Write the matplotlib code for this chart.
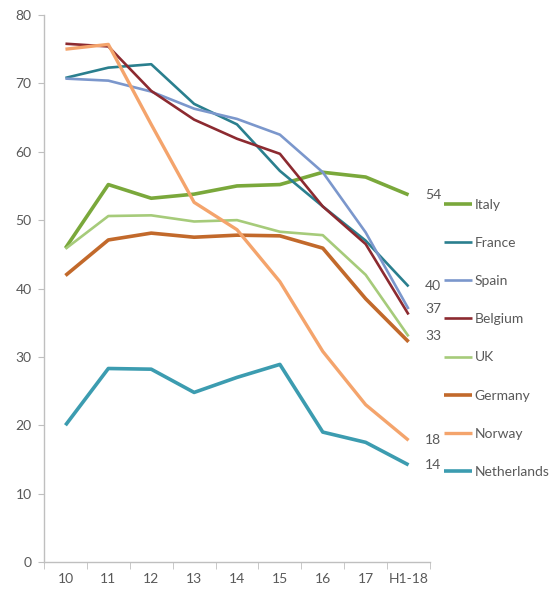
import matplotlib
matplotlib.use("Agg")
import matplotlib.pyplot as plt
from matplotlib.ticker import FixedLocator

categories = ["10", "11", "12", "13", "14", "15", "16", "17", "H1-18"]
italy = [45.9, 55.2, 53.2, 53.8, 55.0, 55.2, 57.0, 56.3, 53.7]
france = [70.8, 72.3, 72.8, 67.0, 64.0, 57.2, 52.0, 47.0, 40.3]
spain = [70.7, 70.4, 68.8, 66.3, 64.8, 62.5, 57.0, 48.2, 37.0]
belgium = [75.8, 75.4, 68.9, 64.7, 61.9, 59.7, 52.0, 46.5, 36.2]
uk = [45.8, 50.6, 50.7, 49.8, 50.0, 48.3, 47.8, 42.0, 33.0]
germany = [41.9, 47.1, 48.1, 47.5, 47.8, 47.7, 45.9, 38.5, 32.2]
norway = [75.0, 75.7, 64.0, 52.6, 48.6, 41.0, 30.8, 23.0, 17.8]
netherlands = [20.0, 28.3, 28.2, 24.8, 27.0, 28.9, 19.0, 17.5, 14.2]

series_names = ["Italy", "France", "Spain", "Belgium", "UK", "Germany", "Norway", "Netherlands"]
series_vals = [italy, france, spain, belgium, uk, germany, norway, netherlands]
colors = ["#7aa83b", "#2a7f8e", "#7b97cc", "#8c2a30", "#a6cb7a", "#c2692b", "#f4a46c", "#3c9cb0"]
widths = [2.6, 1.9, 1.9, 1.9, 1.9, 2.6, 2.4, 2.6]

end_labels = ["54", "40", "37", "33", "18", "14"]
end_label_vals = [53.7, 40.3, 37.0, 33.0, 17.8, 14.2]

plt.rcParams['font.family'] = ['Lato', 'DejaVu Sans']
grey = "#595959"

fig = plt.figure(figsize=(5.54, 5.90), dpi=100)
ax = fig.add_axes([44/554, 1 - 562/590, (430 - 44)/554, (562 - 15)/590])

x = list(range(len(categories)))
handles = []
for name, vals, c, w in zip(series_names, series_vals, colors, widths):
    h, = ax.plot(x, vals, color=c, lw=w, label=name, solid_capstyle='butt')
    handles.append(h)

ax.set_xlim(-0.5, len(categories) - 0.5)
ax.set_ylim(0, 80)
ax.set_yticks(range(0, 81, 10))
ax.set_xticks(x)
ax.set_xticklabels(categories)
ax.xaxis.set_minor_locator(FixedLocator([i - 0.5 for i in range(len(categories) + 1)]))
ax.tick_params(axis='x', which='major', length=0, pad=8, labelsize=10, labelcolor=grey)
ax.tick_params(axis='x', which='minor', length=5, color="#bfbfbf", direction='out')
ax.tick_params(axis='y', length=4, color="#bfbfbf", labelsize=10, labelcolor=grey, pad=5)
for s in ["top", "right"]:
    ax.spines[s].set_visible(False)
for s in ["left", "bottom"]:
    ax.spines[s].set_color("#bfbfbf")
    ax.spines[s].set_linewidth(1.0)

for lab, v in zip(end_labels, end_label_vals):
    ax.annotate(lab, xy=(len(categories) - 1, v), xytext=(12, 0), textcoords='offset points',
                va='center', ha='left', fontsize=10, color=grey, annotation_clip=False)

leg = fig.legend(handles=handles, loc='upper left', bbox_to_anchor=(444/554, 1 - 199/590),
                 frameon=False, fontsize=10, handlelength=2.0, handletextpad=0.2,
                 labelspacing=1.88, borderpad=0, borderaxespad=0)
for t in leg.get_texts():
    t.set_color(grey)

fig.savefig("out.png", dpi=100)
